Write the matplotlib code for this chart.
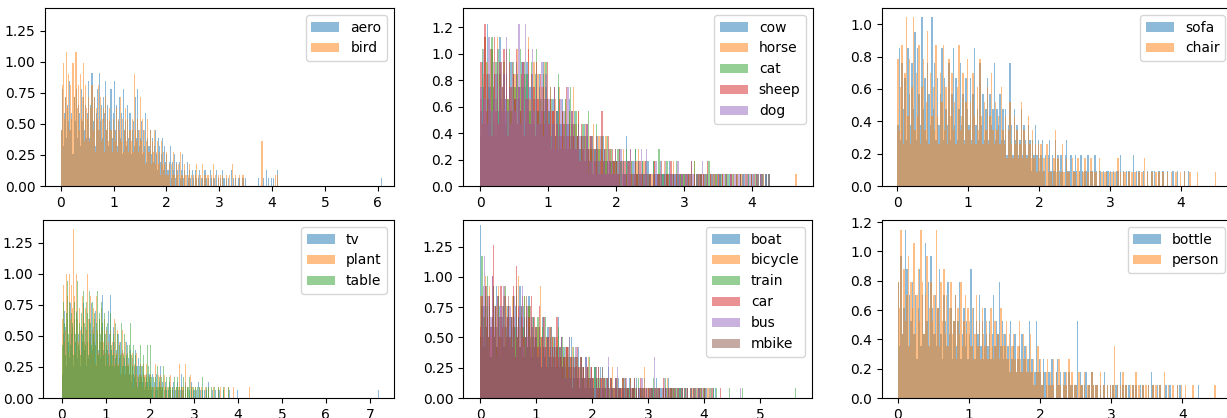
import numpy as np
import matplotlib
matplotlib.use("Agg")
import matplotlib.pyplot as plt
from matplotlib.ticker import FormatStrFormatter

# ---------------- data: per-bin heights (integer levels, bins of 0.02 starting at 0) ----------------
# Each row covers half a unit on the x axis. *_far: isolated far-out observations.

# panel 1
aero = [7,12,5,9,11,6,10,8,13,7,9,4,11,8,12,6,10,9,5,12,8,11,7,10,6,
        9,13,6,10,14,8,11,5,9,12,7,14,8,10,6,11,9,13,7,10,5,8,12,6,9,
        13,7,10,5,8,11,6,9,4,12,7,8,5,10,6,9,4,7,8,5,11,6,12,7,5,
        6,8,4,7,5,9,3,6,5,7,4,6,3,5,7,4,2,6,5,3,4,6,2,5,3,
        4,2,3,5,1,3,2,4,1,3,2,0,3,1,2,4,1,2,0,3,1,2,1,0,2,
        1,0,2,1,0,1,2,0,1,1,0,2,1,0,1,0,2,1,0,1,1,0,2,0,1,
        0,1,0,2,1,0,1,0,1,0,0,2,0,1,0,1,0,0,1,1,0,0,1,0,1,
        0,0,0,0,0,0,0,0,0,0,0,0,1,0,0,0,1,0,0,2,0,1,0,0,1,
        0,1,0,0,0,2]
aero_far = [6.07]
bird = [5,9,11,6,8,12,7,10,5,9,6,11,8,12,12,7,9,5,10,6,8,11,4,9,7,
        6,8,4,7,9,5,8,3,7,6,9,5,8,4,6,7,3,8,5,6,4,7,5,3,6,
        5,4,7,3,6,5,8,4,6,3,5,7,4,6,3,5,4,6,3,10,5,4,6,3,5,
        8,4,6,3,5,2,4,6,3,5,2,4,3,5,2,3,4,2,3,1,4,2,3,2,1,
        3,1,2,0,2,1,3,1,0,2,1,2,0,3,1,1,0,2,1,0,1,2,0,1,0,
        1,0,1,2,0,1,0,1,0,2,0,1,0,1,1,0,0,1,0,2,0,1,0,0,1,
        0,1,0,1,0,0,1,0,0,1,0,0,2,0,0,1,0,0,0,1,0,0,1,0,0,
        0,0,0,0,0,0,0,0,0,0,0,0,0,0,0,4,0,0,0,0,0,0,0,0,0,
        0,0,0,1,0,1]
bird_far = []
aero_unit, bird_unit = 0.065, 0.09

# panel 2
cow = [4,10,7,12,6,13,8,5,11,7,9,4,10,6,12,8,5,9,7,11,6,8,10,5,9,
       7,10,5,8,6,10,4,9,7,10,6,8,5,9,7,4,8,6,9,5,7,10,6,8,5,
       6,8,4,7,5,3,6,8,4,5,7,3,6,4,5,7,3,5,4,6,3,4,5,3,4,
       3,5,2,4,3,2,4,3,1,3,2,4,2,3,1,4,2,3,2,1,3,2,2,1,3,
       2,1,3,2,0,2,1,4,1,2,1,0,2,1,3,1,2,0,1,2,1,1,0,2,1,
       1,0,2,1,1,0,1,2,0,1,1,0,1,0,2,1,0,1,1,0,1,0,1,1,0,
       1,0,1,0,1,2,0,1,0,1,0,1,1,0,1,0,0,1,0,1,0,1,0,0,1,
       0,1,0,1,0,0,1,0,1,0,0,1,0,0,1,0,1,0,0,1,0,0,1,0,0,
       1,0,0,1,0,0,1,0,1,0,1,0,1]
cow_far = []
horse = [7,5,9,12,6,10,4,8,11,6,9,7,12,5,8,10,6,9,4,11,7,8,5,10,6,
         9,6,11,5,8,7,10,4,9,6,12,7,5,8,10,6,4,9,7,5,8,6,10,4,7,
         5,8,4,6,3,7,5,4,8,3,6,5,7,4,3,6,4,5,8,3,5,4,6,2,4,
         4,2,5,3,1,4,3,2,5,2,3,1,4,2,3,1,2,4,2,1,3,2,1,2,3,
         2,1,0,2,1,3,0,1,2,1,0,2,1,1,0,2,3,1,0,1,2,0,1,1,0,
         1,1,0,2,0,1,0,1,1,0,2,0,1,1,0,1,0,2,0,1,0,1,1,0,1,
         0,1,0,1,1,0,0,2,0,1,0,1,0,0,1,0,1,0,0,1,0,1,0,1,0,
         1,0,0,1,0,1,0,0,0,1,0,1,0,0,1,0,0,1,0,0,0,1,0,0,1,
         0,1,0,0,1,0,0,1,1,0,0,0,1]
horse_far = [4.65]
cat = [6,11,8,5,10,7,9,6,12,8,5,10,7,11,9,6,8,10,5,9,7,11,6,8,10,
       8,5,9,7,11,6,8,10,5,9,7,6,10,8,5,9,11,6,8,7,5,9,6,10,7,
       6,4,7,5,8,4,6,9,5,3,6,4,7,5,3,6,8,4,5,3,6,4,5,3,4,
       5,2,4,3,6,2,3,4,1,3,5,2,3,1,4,2,3,2,4,1,2,3,1,2,2,
       2,3,1,2,0,2,1,3,2,0,1,2,1,0,3,1,2,1,0,2,1,0,2,1,1,
       1,0,2,1,0,1,3,0,1,1,0,1,2,0,1,0,1,1,0,2,1,0,1,0,1,
       1,0,1,1,0,1,0,2,0,1,1,0,1,0,0,1,1,0,2,0,1,0,0,1,0,
       0,1,1,0,0,1,0,1,0,0,1,0,0,1,0,0,1,0,1,0,0,0,1,0,1,
       0,0,1,0,1,0,0,1,0,0,1,0,1]
cat_far = []
sheep = [10,5,8,13,6,9,7,11,4,8,12,6,9,5,10,7,8,11,6,9,4,10,8,6,9,
         7,11,5,8,6,9,10,4,8,7,11,5,9,6,8,4,10,7,5,9,6,8,5,7,10,
         5,7,3,6,8,4,5,3,7,4,6,5,3,8,4,5,3,6,4,5,3,4,6,2,5,
         3,4,2,5,3,2,4,1,3,2,4,3,1,2,6,2,3,1,2,4,2,1,3,2,1,
         2,1,3,0,2,1,2,1,0,2,3,1,0,1,2,1,0,2,1,1,0,2,1,0,1,
         1,0,1,2,0,1,1,0,2,0,1,0,1,1,0,2,0,1,0,1,0,1,0,1,0,
         0,1,0,1,0,2,0,1,0,0,1,0,1,0,1,0,0,2,0,1,0,0,1,0,0,
         1,0,0,1,0,0,1,0,0,1,0,0,0,1,0,0,1,0,0,0,1,0,0,0,1,
         0,0,0,1,0,0,1]
sheep_far = []
dog = [8,6,11,7,9,5,12,8,6,10,7,9,11,5,8,10,6,9,7,12,6,8,5,10,7,
       6,9,7,13,5,8,10,6,13,7,9,5,8,11,6,7,9,5,8,6,10,4,7,9,5,
       7,4,6,5,8,3,6,4,5,7,3,6,4,5,8,3,4,6,3,5,4,3,5,4,2,
       4,2,3,5,1,3,2,4,2,3,1,3,2,4,1,2,3,1,2,3,2,1,2,1,3,
       1,2,0,3,1,2,1,0,2,1,3,0,1,2,1,0,2,1,3,0,1,2,3,1,0,
       1,0,1,0,2,1,0,1,1,0,1,2,0,1,0,1,1,0,1,0,2,1,0,1,0,
       0,1,1,0,1,0,1,0,0,1,0,1,0,2,0,1,0,1,0,0,1,0,1,0,1,
       0,1,0,0,1,0,1,0,0,1,0,0,1,0,0,1,0,0,1,0,0,1,0,1,0,
       0,1,0,0,1,0,1,1,0,0,1,0,1]
dog_far = []
animal_unit = 0.094

# panel 3
sofa = [4,9,3,8,5,7,3,9,6,4,8,5,10,3,9,6,4,11,5,7,3,8,6,4,11,
        5,8,3,7,4,6,9,3,7,5,4,8,3,6,9,4,7,3,5,8,4,6,3,7,5,
        4,7,3,6,9,4,5,3,8,4,6,3,5,7,3,6,4,5,8,3,5,4,6,3,5,
        3,5,2,4,8,4,2,5,3,4,2,3,5,2,4,3,2,4,3,1,3,2,4,2,3,
        1,2,3,1,2,0,2,3,1,2,1,3,0,2,1,2,1,0,2,3,1,1,2,0,1,
        2,1,0,1,2,1,0,1,1,2,0,1,1,0,2,1,0,1,1,0,1,0,1,1,0,
        1,0,1,0,1,1,0,2,0,1,0,1,0,1,0,0,2,0,1,0,1,0,0,1,0,
        0,1,0,0,1,0,1,0,0,1,0,0,1,0,0,1,0,0,0,1,0,0,1,0,0,
        0,0,1,0,0,1]
sofa_far = []
chair = [9,4,7,10,3,8,12,5,9,3,7,12,4,8,5,10,3,7,9,4,6,11,3,8,5,
         7,4,10,5,3,8,6,10,4,7,3,9,5,8,4,6,3,7,10,4,5,8,3,6,9,
         4,6,3,8,5,3,7,4,9,5,3,6,4,7,3,5,8,4,3,6,4,5,3,7,4,
         3,5,2,4,6,3,2,5,3,4,2,3,6,2,4,3,2,5,3,2,4,2,3,1,3,
         2,3,1,2,0,3,1,2,1,0,2,4,1,2,0,1,3,1,0,2,1,1,0,2,1,
         1,0,2,1,0,1,1,2,0,1,0,2,1,0,1,1,0,2,0,1,0,1,1,0,1,
         0,1,0,1,0,2,0,1,0,1,1,0,0,1,0,1,0,1,0,0,1,0,1,0,2,
         0,1,0,0,1,0,0,1,0,1,0,0,1,0,0,1,0,0,1,0,0,1,0,0,1,
         0,0,1,0,0,0,1,0,0,0,0,1]
chair_far = [4.49]
sofa_unit, chair_unit = 0.095, 0.087

# panel 4
tv = [3,8,11,6,9,4,10,7,5,12,8,6,9,4,10,7,11,5,8,6,10,4,9,7,12,
      6,9,4,11,7,5,10,8,12,6,9,5,7,11,4,8,6,10,5,9,7,13,6,8,4,
      9,6,11,5,8,13,6,4,9,7,5,10,6,4,8,5,7,3,6,8,4,5,3,7,4,
      5,3,6,4,2,5,3,4,6,2,4,3,5,2,3,4,2,3,1,4,2,3,2,1,3,
      2,1,3,2,0,2,1,3,1,0,2,1,4,1,2,0,1,2,1,3,0,1,2,1,0,
      1,2,0,1,1,0,2,1,0,1,3,0,1,1,0,2,0,1,0,1,1,0,2,0,1,
      1,0,1,0,0,2,0,1,0,1,0,0,1,0,1,0,2,0,0,1,0,1,0,0,1,
      0,0,1,0,1,0,0,0,1,0,0,1,0,0,0,1,0,0,0,1,0,0,0,0,1]
tv_far = [7.18]
plant = [7,10,5,8,6,11,9,4,11,7,10,5,8,15,9,4,11,7,5,8,10,6,4,9,7,
         5,8,6,4,11,7,5,9,4,6,8,5,7,3,9,6,4,7,5,8,3,6,5,7,4,
         6,3,5,7,4,6,3,5,4,7,3,5,4,6,3,5,2,4,6,3,4,2,5,3,4,
         3,2,4,3,2,4,1,3,2,4,2,3,1,2,3,2,1,3,2,1,2,3,1,2,1,
         2,1,0,2,1,1,3,0,1,2,1,0,2,1,1,0,2,1,0,3,1,0,1,2,0,
         1,0,1,2,0,1,0,1,3,0,1,0,1,1,0,3,0,1,0,1,0,2,0,1,0,
         0,1,0,1,0,0,1,0,1,0,0,2,0,1,0,0,1,0,0,1,0,0,1,0,0,
         0,0,1,0,0,1,0,0,0,1,0,0,0,0,1,0,0,0,0,0,1,0,0,0,0]
plant_far = [4.27]
table = [5,9,7,10,4,8,11,6,9,5,8,10,7,4,9,6,8,11,5,7,9,4,8,6,10,
         7,5,9,6,8,4,10,7,5,9,6,12,8,5,7,10,4,8,6,9,5,7,4,8,6,
         5,7,4,6,3,8,5,4,6,3,7,5,4,6,3,5,4,7,3,5,4,6,3,4,5,
         3,5,7,2,4,3,5,2,4,3,1,4,2,3,5,2,3,4,2,3,1,2,5,3,2,
         5,2,1,3,2,0,2,1,3,1,2,0,1,2,1,3,0,1,2,1,0,1,2,1,0,
         1,0,2,1,0,1,2,0,1,0,1,1,0,2,0,1,0,1,1,0,2,0,1,0,1,
         0,1,0,0,1,0,1,0,0,2,0,1,0,0,1,0,1,0,0,0,1,0,0,1,0,
         0,0,1,0,0,0,0,0,1,0,0,0,0,0,1,0,0,0,0,0,0,0,0,0,0]
table_far = [4.55]
tv_unit, plant_unit, table_unit = 0.064, 0.091, 0.086

# panel 5
boat = [17,5,9,7,11,6,8,4,10,7,5,9,6,8,11,5,7,9,4,8,6,10,5,7,9,
        6,8,4,7,10,5,9,6,4,8,11,5,7,9,4,6,8,5,10,6,7,4,8,5,6,
        7,4,6,5,3,8,4,6,3,5,7,4,6,3,5,4,6,3,5,8,3,4,6,3,5,
        4,2,5,3,4,2,6,3,2,4,3,2,5,1,3,4,2,3,1,4,2,3,1,2,3,
        2,1,3,2,0,2,1,3,1,2,0,1,2,1,3,0,2,1,1,0,2,1,0,2,1,
        1,0,1,2,0,1,1,0,2,1,0,1,1,0,2,0,1,1,0,1,0,2,0,1,0,
        1,0,1,0,1,1,0,2,0,1,0,1,0,1,0,1,1,0,2,0,1,0,1,0,1,
        0,1,0,1,0,1,0,0,1,0,1,0,0,1,0,1,0,1,0,0,1,0,1,0,0,
        1,0,1,0,0,0,0,0,1,0,1]
boat_far = []
bicycle = [10,6,8,4,12,7,9,5,11,6,8,10,5,7,9,4,11,6,8,5,10,7,4,9,6,
           8,5,7,10,4,8,6,9,5,12,7,4,8,6,10,5,7,4,9,6,8,5,7,4,6,
           5,7,4,11,6,3,5,8,4,6,3,5,7,4,6,3,5,4,6,3,5,4,3,5,2,
           4,2,5,3,2,4,3,5,2,3,4,1,3,2,4,2,3,1,2,3,2,4,1,2,3,
           1,2,0,3,1,2,1,0,2,3,1,1,0,2,1,0,2,1,3,0,1,1,2,0,1,
           0,1,1,0,2,1,0,1,0,1,1,0,2,0,1,0,1,0,1,1,0,3,0,1,0,
           1,0,0,1,0,1,0,1,0,0,1,0,1,0,0,1,0,2,0,1,0,0,1,0,1,
           0,0,1,0,1,0,0,1,0,0,1,0,0,0,1,0,0,1,0,0,0,1,0,0,1,
           0,0,0,1,0,0,1]
bicycle_far = []
train = [6,14,8,5,10,7,12,6,9,4,8,11,6,9,5,7,10,4,8,6,9,5,11,7,6,
         9,5,8,6,10,4,7,11,6,8,5,9,4,7,10,6,8,5,9,4,7,6,8,5,7,
         5,8,4,6,3,7,5,4,8,3,6,4,5,7,3,6,4,5,3,7,4,5,3,6,4,
         5,3,4,2,6,3,4,2,5,3,2,4,3,1,3,4,2,3,2,1,3,2,4,1,2,
         2,1,3,0,2,1,2,1,0,3,1,2,0,1,2,1,0,2,1,1,0,2,1,0,1,
         1,0,2,1,0,1,1,0,1,2,0,1,0,1,1,0,2,0,1,0,1,1,0,1,0,
         0,1,0,1,2,0,1,0,1,0,1,0,0,1,0,2,0,1,0,0,1,0,1,0,1,
         1,0,0,1,0,1,0,0,1,0,1,0,0,1,0,0,1,0,1,0,0,1,0,0,1,
         0,1,0,0,0,1,0,0,1,0,0,1]
train_far = [4.45, 4.68, 5.62]
car = [7,10,6,9,5,11,8,6,10,7,12,15,7,9,5,10,8,6,11,7,9,5,10,6,8,
       9,6,8,5,11,7,4,13,6,9,5,8,10,6,7,4,9,6,8,5,10,7,4,8,6,
       7,5,9,4,6,3,8,5,4,6,3,7,5,4,6,3,5,4,8,3,5,4,6,3,4,
       4,2,5,3,2,4,3,1,4,2,3,5,2,3,1,4,2,3,2,1,3,2,1,2,3,
       1,2,0,2,1,3,1,0,2,1,2,0,1,2,1,0,2,1,0,1,2,1,0,1,1,
       0,1,2,0,1,0,1,1,0,2,0,1,1,0,1,0,1,0,2,0,1,0,1,1,0,
       1,0,1,0,0,1,0,1,0,1,1,0,0,2,0,1,0,0,1,0,1,0,0,1,0,
       0,1,0,0,1,0,0,1,0,0,1,0,1,0,0,1,0,0,0,1,0,0,1,0,0,
       1,0,0,0,0,0,0,1,0,0,0,0,0,0,1]
car_far = []
bus = [5,8,11,14,7,9,6,10,5,8,12,6,9,7,4,10,8,5,9,6,11,7,5,8,6,
       7,9,5,8,6,10,4,8,7,5,9,6,11,5,8,4,7,9,6,5,8,4,7,6,5,
       6,4,7,5,3,6,4,8,5,3,6,4,5,7,3,5,4,6,3,4,5,3,6,2,4,
       3,5,2,4,6,2,3,4,2,3,5,1,3,2,4,2,3,1,2,4,3,1,2,3,2,
       2,0,1,3,1,2,0,2,1,3,1,0,2,1,4,0,1,2,1,0,2,1,3,0,1,
       1,0,1,1,0,2,0,1,0,1,1,0,2,0,1,0,1,1,0,2,0,1,0,1,0,
       0,1,0,1,0,4,0,1,0,0,1,0,1,0,2,0,1,0,0,1,0,1,0,0,1,
       0,0,1,0,1,0,0,1,0,0,1,0,0,1,0,0,0,1,0,0,1,0,0,1,0,
       0,1,0,0,0,0,1]
bus_far = [4.65]
mbike = [6,9,5,8,11,7,10,6,9,4,8,11,6,9,7,5,10,8,6,9,5,11,7,6,8,
         10,6,8,5,9,7,4,10,6,8,5,9,7,4,8,6,10,5,7,9,4,8,6,5,7,
         6,4,7,5,3,6,8,4,5,3,6,4,7,3,5,4,6,3,5,4,3,5,4,3,4,
         3,4,2,5,3,2,4,1,3,2,4,2,3,1,4,2,2,3,1,2,3,1,2,2,1,
         2,1,0,2,1,3,1,2,0,1,2,1,0,2,1,1,0,2,1,0,1,2,0,1,1,
         1,0,1,0,2,0,1,1,0,1,0,1,2,0,1,0,1,0,1,1,0,1,0,0,1,
         0,1,0,1,0,0,1,0,1,0,1,0,0,1,0,1,0,0,1,0,0,1,0,1,0,
         0,0,1,0,0,1,0,0,0,1,0,0,1,0,0,0,1,0,0,0,1,0,0,0,0,
         1,0,0,0,1]
mbike_far = []
vehicle_unit = 0.084

# panel 6
bottle = [9,4,11,5,7,13,10,4,8,6,9,5,8,3,7,10,4,8,5,12,6,9,4,11,7,
          5,8,4,7,10,5,3,8,6,4,9,5,7,3,6,8,4,6,9,3,5,7,4,6,3,
          5,10,4,7,3,6,5,8,4,6,3,7,5,4,6,3,5,8,4,6,5,9,4,6,3,
          5,3,4,2,6,3,4,5,2,3,4,2,5,3,4,2,3,6,2,3,1,2,6,2,3,
          2,1,3,2,1,0,2,1,3,1,0,2,3,1,2,0,1,2,1,0,2,1,1,0,1,
          1,6,0,2,1,0,1,2,0,1,0,2,1,0,1,1,0,1,0,1,2,0,1,0,1,
          0,1,0,1,1,0,2,0,1,0,1,0,1,0,0,1,0,1,0,0,1,0,1,0,0,
          0,1,0,2,1,0,0,1,0,1,0,0,0,1,0,0,1,0,0,0,0,1,0,1,0,
          0,0,0,0,0,0,0,0,0,0,0,1]
bottle_far = []
person = [9,7,13,5,10,6,8,11,4,9,7,12,5,8,10,6,13,9,5,8,11,4,7,9,6,
          8,5,13,7,4,9,6,10,5,8,4,7,9,5,6,8,3,7,5,9,4,6,8,5,7,
          6,4,7,3,5,8,4,6,3,7,5,4,6,3,5,7,4,3,6,4,5,3,7,4,5,
          4,6,3,5,2,4,5,3,2,4,6,3,2,5,3,4,2,3,5,2,3,1,2,4,2,
          3,1,2,0,2,3,1,2,1,3,0,2,1,3,1,0,2,1,2,0,3,1,2,0,1,
          1,0,2,1,1,0,2,0,1,1,0,2,1,0,1,1,0,2,0,1,1,0,1,0,1,
          0,1,4,0,1,0,1,0,2,0,1,0,0,1,0,1,0,2,0,1,0,0,1,0,1,
          0,1,0,0,1,0,1,0,0,1,0,0,2,0,0,1,0,0,1,0,0,1,0,0,1,
          0,0,1,0,0,0,0,1,0,0,0,0,0,0,0,0,0,0,0,0,0,0,1,1]
person_far = []
bottle_unit, person_unit = 0.088, 0.088

panels = [
    [("aero", aero, aero_far, aero_unit), ("bird", bird, bird_far, bird_unit)],
    [("cow", cow, cow_far, animal_unit), ("horse", horse, horse_far, animal_unit),
     ("cat", cat, cat_far, animal_unit), ("sheep", sheep, sheep_far, animal_unit),
     ("dog", dog, dog_far, animal_unit)],
    [("sofa", sofa, sofa_far, sofa_unit), ("chair", chair, chair_far, chair_unit)],
    [("tv", tv, tv_far, tv_unit), ("plant", plant, plant_far, plant_unit),
     ("table", table, table_far, table_unit)],
    [("boat", boat, boat_far, vehicle_unit), ("bicycle", bicycle, bicycle_far, vehicle_unit),
     ("train", train, train_far, vehicle_unit), ("car", car, car_far, vehicle_unit),
     ("bus", bus, bus_far, vehicle_unit), ("mbike", mbike, mbike_far, vehicle_unit)],
    [("bottle", bottle, bottle_far, bottle_unit), ("person", person, person_far, person_unit)],
]

# ---------------- layout ----------------
W, H = 1227, 418
BIN = 0.02


def bin_levels(counts, far):
    n = len(counts)
    idx = [int(np.floor(f / BIN + 1e-9)) for f in far]
    if idx:
        n = max(n, max(idx) + 1)
    c = np.zeros(n)
    c[:len(counts)] = counts
    for i in idx:
        c[i] += 1
    return c


fig = plt.figure(figsize=(W / 100, H / 100), dpi=100)

# (left, top, right, bottom) in pixels
boxes = [(45, 8, 394, 186), (463, 8, 813, 186), (882, 8, 1232, 186),
         (43, 220, 394, 398), (463, 220, 812, 398), (882, 220, 1232, 398)]
xlims = [(-0.30, 6.31), (-0.255, 4.9), (-0.214, 4.72),
         (-0.43, 7.55), (-0.31, 5.93), (-0.22, 4.70)]
ylims = [(0, 1.434), (0, 1.346), (0, 1.10),
         (0, 1.435), (0, 1.47), (0, 1.215)]
yticks = [np.arange(0, 1.3, 0.25), np.arange(0, 1.3, 0.2), np.arange(0, 1.05, 0.2),
          np.arange(0, 1.3, 0.25), np.arange(0, 1.3, 0.25), np.arange(0, 1.25, 0.2)]

for k, (series, box, xl, yl, yt) in enumerate(zip(panels, boxes, xlims, ylims, yticks)):
    l, t, r, b = box
    ax = fig.add_axes([l / W, (H - b) / H, (r - l) / W, (b - t) / H])
    for name, counts, far, unit in series:
        levels = bin_levels(counts, far)
        edges = np.arange(len(levels) + 1) * BIN
        ax.hist(edges[:-1], bins=edges, weights=levels * unit, alpha=0.5, label=name)
    ax.set_xlim(*xl)
    ax.set_ylim(*yl)
    ax.set_yticks(yt)
    fmt = '%.2f' if k in (0, 3, 4) else '%.1f'
    ax.yaxis.set_major_formatter(FormatStrFormatter(fmt))
    ax.legend(loc="upper right")

fig.savefig("out.png", dpi=100)
